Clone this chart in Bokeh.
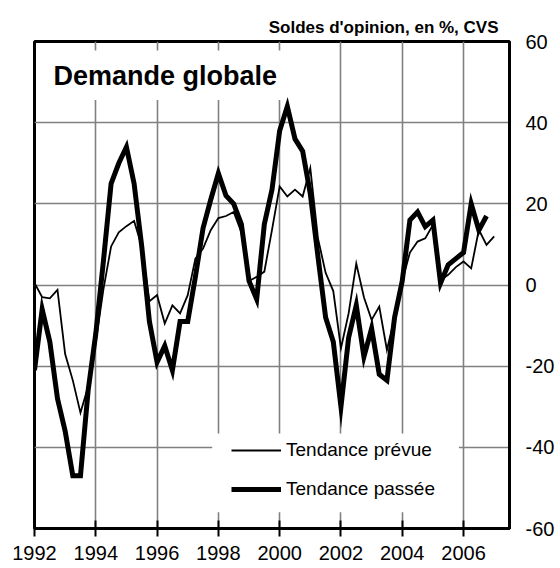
import numpy as np
from bokeh.plotting import figure
from bokeh.models import (ColumnDataSource, Legend, LegendItem, Label, BoxAnnotation,
                          FixedTicker, Range1d, PrintfTickFormatter)
from bokeh.embed import file_html
from bokeh.resources import INLINE

# ---------------- data (quarterly, first quarter = 1992 Q1) ----------------
start_year = 1992
tendance_passee = [
    -21, -6, -14, -28, -36, -47, -47, -26,
    -12, 6, 25, 30, 34, 25, 9.5, -9,
    -19, -15, -21, -9, -9, 2, 14, 21,
    27.5, 22, 20, 15, 1, -3.5, 15, 23.5,
    38, 44, 36, 33, 22.5, 7, -8, -14,
    -30, -13, -5, -17.7, -10.7, -22, -23.5, -8,
    1, 16, 18, 14.4, 16, 0.5, 5, 6.5,
    8, 20, 13.5, 17,
]
tendance_prevue = [
    0.5, -3, -3.3, -1.2, -17, -23.5, -31.5, -25,
    -14, -1, 9.5, 13, 14.5, 15.8, 9.5, -4,
    -2.5, -9.5, -5, -7, -2.5, 6.5, 9, 13.5,
    16.5, 17, 18, 13, 1, 2, 3.3, 13.6,
    24.3, 21.8, 23.5, 21.8, 28.8, 11.5, 3, -1.5,
    -15.6, -7, 5.3, -3, -8.6, -5.3, -16, -8,
    1, 8, 10.7, 11.5, 14.8, 1.2, 2.5, 4.4,
    5.8, 4.1, 13.6, 9.9, 12,
]
x_ticks = [1992, 1994, 1996, 1998, 2000, 2002, 2004, 2006]
y_ticks = [-60, -40, -20, 0, 20, 40, 60]
series_names = ["Tendance prévue", "Tendance passée"]
chart_title = "Demande globale"
unit_note = "Soldes d'opinion, en %, CVS"

x_passee = start_year + np.arange(len(tendance_passee)) / 4.0
x_prevue = start_year + np.arange(len(tendance_prevue)) / 4.0

src_passee = ColumnDataSource(dict(x=x_passee, y=tendance_passee))
src_prevue = ColumnDataSource(dict(x=x_prevue, y=tendance_prevue))

FONT = "Liberation Sans"

p = figure(width=560, height=568, output_backend="svg", toolbar_location=None,
           x_range=Range1d(1992, 2007.5), y_range=Range1d(-60, 60),
           y_axis_location="right",
           min_border_left=34, min_border_right=51, min_border_top=41, min_border_bottom=40,
           title=unit_note)

p.title.align = "right"
p.title.text_font = FONT
p.title.text_font_size = "17px"
p.title.text_font_style = "bold"
p.title.text_color = "black"
p.title.offset = 11
p.title.standoff = 9

p.background_fill_color = "white"
p.border_fill_color = "white"
p.outline_line_color = "black"
p.outline_line_width = 3

# grids
p.xgrid.ticker = FixedTicker(ticks=x_ticks)
p.ygrid.ticker = FixedTicker(ticks=y_ticks)
for g in (p.xgrid, p.ygrid):
    g.grid_line_color = "#808080"
    g.grid_line_width = 1.6

# axes
xa = p.xaxis[0]
xa.ticker = FixedTicker(ticks=x_ticks)
xa.axis_line_width = 3
xa.axis_line_color = "black"
xa.major_tick_in = 8
xa.major_tick_out = 8
xa.major_tick_line_width = 2
xa.major_tick_line_color = "black"
xa.minor_tick_line_color = None
xa.major_label_text_font = FONT
xa.major_label_text_font_size = "20px"
xa.major_label_text_color = "black"
xa.major_label_standoff = 9

ya = p.yaxis[0]
ya.ticker = FixedTicker(ticks=y_ticks)
ya.formatter = PrintfTickFormatter(format="%d")
ya.axis_line_width = 3
ya.axis_line_color = "black"
ya.major_tick_in = 0
ya.major_tick_out = 0
ya.minor_tick_line_color = None
ya.major_label_text_font = FONT
ya.major_label_text_font_size = "20px"
ya.major_label_text_color = "black"
ya.major_label_standoff = 16

# white boxes behind title and legend (hide the grid there)
p.add_layout(BoxAnnotation(left=1992.36, right=2000.15, bottom=45.6, top=57.8,
                           fill_color="white", fill_alpha=1, line_color=None))
p.add_layout(BoxAnnotation(left=1997.8, right=2005.85, bottom=-56.0, top=-36.6,
                           fill_color="white", fill_alpha=1, line_color=None))

r_prev = p.line("x", "y", source=src_prevue, line_color="black", line_width=1.8,
                line_join="miter")
r_pass = p.line("x", "y", source=src_passee, line_color="black", line_width=5,
                line_join="miter")

p.add_layout(Label(x=1992.62, y=51.6, text=chart_title, text_font=FONT,
                   text_font_size="27px", text_font_style="bold", text_color="black",
                   text_baseline="middle", text_align="left"))

legend = Legend(items=[LegendItem(label=series_names[0], renderers=[r_prev]),
                       LegendItem(label=series_names[1], renderers=[r_pass])],
                location=(197, 28), orientation="vertical")
legend.background_fill_alpha = 0
legend.border_line_color = None
legend.padding = 0
legend.margin = 0
legend.spacing = 17
legend.glyph_width = 50
legend.glyph_height = 20
legend.label_height = 20
legend.label_standoff = 5
legend.label_text_font = FONT
legend.label_text_font_size = "19px"
legend.label_text_color = "black"
p.add_layout(legend)

open("out.html", "w").write(file_html(p, INLINE))
